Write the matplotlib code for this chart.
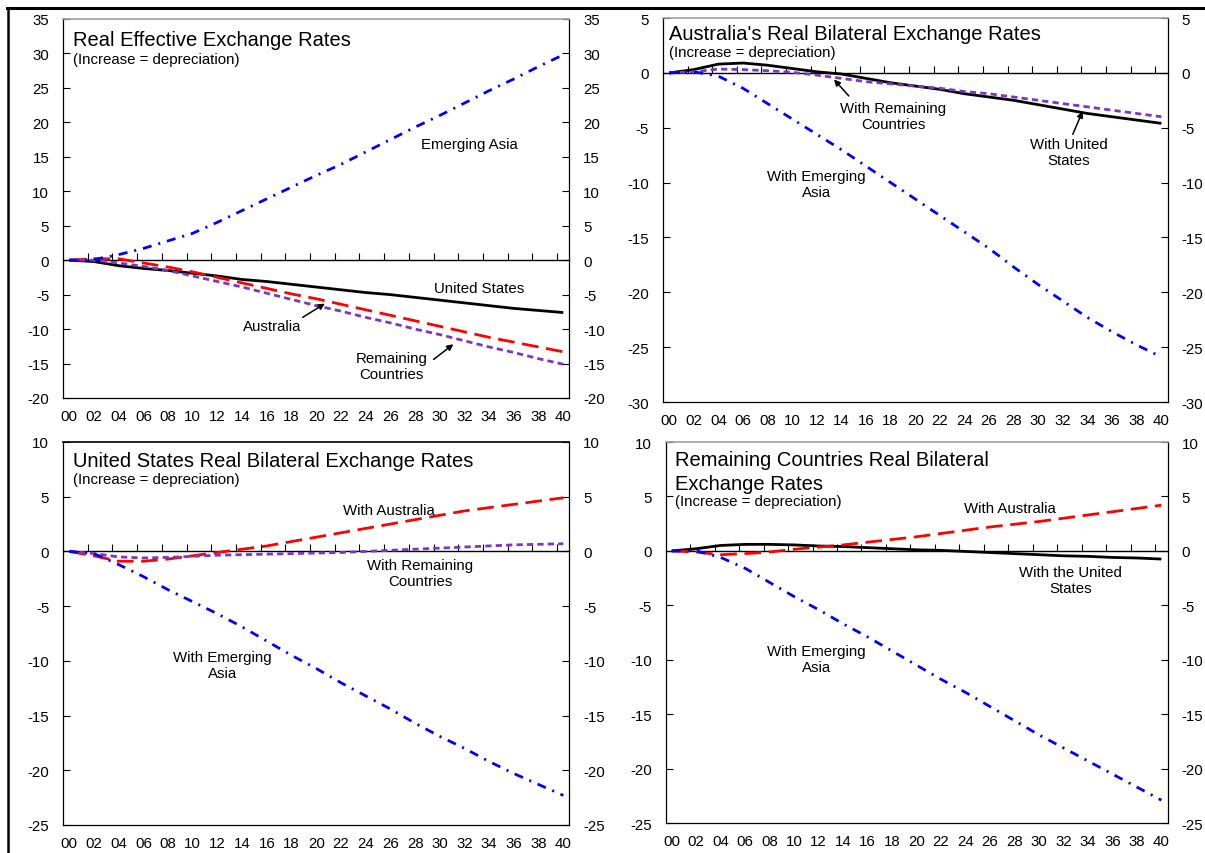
#!/usr/bin/env python3

import matplotlib

matplotlib.use("Agg")
import matplotlib.pyplot as plt
from matplotlib.lines import Line2D

# years since 2000, plotted every second year
YEARS = [0, 2, 4, 6, 8, 10, 12, 14, 16, 18, 20, 22, 24, 26, 28, 30, 32, 34, 36, 38, 40]
YEAR_LABELS = ["00", "02", "04", "06", "08", "10", "12", "14", "16", "18", "20",
               "22", "24", "26", "28", "30", "32", "34", "36", "38", "40"]

# Real effective exchange rates
REER_ASIA = [0, 0.1, 0.8, 1.7, 2.8, 3.9, 5.5, 7.2, 8.9, 10.6, 12.3, 13.9, 15.7,
             17.5, 19.3, 21.0, 22.8, 24.6, 26.3, 28.1, 29.8]
REER_US = [0, -0.2, -0.8, -1.2, -1.5, -1.9, -2.3, -2.8, -3.1, -3.5, -3.9, -4.3,
           -4.7, -5.0, -5.4, -5.8, -6.2, -6.6, -7.0, -7.3, -7.6]
REER_AUS = [0, 0.2, 0.2, -0.4, -1.0, -1.7, -2.5, -3.3, -4.1, -4.9, -5.6, -6.4,
            -7.2, -8.0, -8.8, -9.6, -10.4, -11.2, -11.9, -12.6, -13.3]
REER_REST = [0, 0, -0.4, -0.9, -1.5, -2.3, -3.1, -3.9, -4.8, -5.7, -6.6, -7.4,
             -8.3, -9.1, -10.0, -10.8, -11.7, -12.6, -13.4, -14.3, -15.1]

# Australia's real bilateral exchange rates
AUS_ASIA = [0, 0.1, -0.3, -1.4, -2.8, -4.2, -5.6, -7.0, -8.5, -10.0, -11.5, -13.0,
            -14.5, -16.0, -17.7, -19.3, -20.8, -22.3, -23.6, -24.8, -25.9]
AUS_US = [0, 0.3, 0.8, 0.9, 0.7, 0.4, 0.1, -0.1, -0.5, -0.9, -1.2, -1.5, -1.9,
          -2.2, -2.5, -2.9, -3.3, -3.7, -4.0, -4.3, -4.6]
AUS_REST = [0, 0.1, 0.35, 0.3, 0.2, 0.05, -0.2, -0.5, -0.8, -1.0, -1.2, -1.4,
            -1.7, -1.9, -2.2, -2.5, -2.8, -3.1, -3.4, -3.7, -4.0]

# United States real bilateral exchange rates
US_ASIA = [0, -0.2, -1.2, -2.3, -3.5, -4.6, -5.7, -6.9, -8.2, -9.5, -10.7, -12.0,
           -13.2, -14.4, -15.7, -16.9, -18.0, -19.2, -20.3, -21.3, -22.3]
US_AUS = [0, -0.4, -0.9, -0.9, -0.7, -0.4, -0.1, 0.2, 0.5, 0.9, 1.3, 1.7, 2.1,
          2.5, 2.9, 3.3, 3.7, 4.0, 4.3, 4.6, 4.9]
US_REST = [0, -0.2, -0.5, -0.6, -0.55, -0.45, -0.35, -0.3, -0.25, -0.2, -0.15,
           -0.1, 0.0, 0.1, 0.2, 0.3, 0.4, 0.5, 0.6, 0.65, 0.7]

# Remaining countries real bilateral exchange rates
ROW_ASIA = [0, 0, -0.6, -1.6, -2.9, -4.2, -5.4, -6.7, -7.9, -9.2, -10.5, -11.8,
            -13.0, -14.3, -15.6, -16.9, -18.1, -19.3, -20.5, -21.7, -22.9]
ROW_AUS = [0, -0.1, -0.35, -0.25, -0.1, 0.15, 0.35, 0.55, 0.8, 1.05, 1.3, 1.6,
           1.9, 2.2, 2.45, 2.7, 3.0, 3.3, 3.6, 3.9, 4.2]
ROW_US = [0, 0.2, 0.5, 0.6, 0.6, 0.55, 0.45, 0.4, 0.3, 0.2, 0.1, 0.05, -0.05,
          -0.15, -0.25, -0.35, -0.45, -0.5, -0.6, -0.65, -0.75]

STYLES = {
    "us": dict(color="black", linestyle="-"),
    "aus": dict(color="#FF0000", linestyle=(0, (12, 5.5))),
    "rest": dict(color="#7E35C0", linestyle=(0, (4.5, 3))),
    "asia": dict(color="#0000FF", linestyle=(0, (6.5, 5, 1.5, 5))),
}

SMALL = 10.8
TITLE = 14.5


def setup_axes(ax, ylim, yticks, top_color):
    ax.set_xlim(-0.5, 40.5)
    ax.set_ylim(*ylim)
    ax.set_yticks(yticks)
    ax.set_xticks(YEARS)
    ax.set_xticklabels(YEAR_LABELS)
    ax.tick_params(axis="x", length=0, pad=8, labelsize=SMALL)
    ax.tick_params(axis="y", direction="in", length=5, width=0.8, left=True,
                   right=True, labelleft=True, labelright=True, pad=10,
                   labelsize=SMALL)
    for side in ("left", "right", "bottom"):
        ax.spines[side].set_linewidth(0.9)
    ax.spines["top"].set_color(top_color)
    ax.spines["top"].set_linewidth(1.2)

    # zero line carries the tick marks, between the category labels
    zero = (0 - ylim[0]) / (ylim[1] - ylim[0])
    sec = ax.secondary_xaxis(zero)
    sec.set_alignment("bottom")
    sec.set_xticks([y + 1.5 for y in YEARS[:-1]])
    sec.tick_params(axis="x", direction="in", length=5, width=0.8,
                    labelbottom=False, labeltop=False)
    sec.spines["bottom"].set_linewidth(1.0)


def draw(ax, series):
    for key, values in series:
        ax.plot(YEARS, values, linewidth=2.0, dash_capstyle="butt",
                solid_capstyle="butt", **STYLES[key])


def label(ax, x, y, text):
    ax.text(x, y, text, ha="center", va="center", fontsize=SMALL)


def arrow(ax, tail, head):
    ax.annotate("", xy=head, xytext=tail,
                arrowprops=dict(arrowstyle="-|>", color="black", lw=1.1,
                                mutation_scale=9, shrinkA=0, shrinkB=0))


def headings(ax, x, lines, sub_y):
    for text, y in lines:
        ax.text(x, y, text, transform=ax.transAxes, fontsize=TITLE,
                va="baseline", ha="left")
    ax.text(x, sub_y, "(Increase = depreciation)", transform=ax.transAxes,
            fontsize=SMALL, va="baseline", ha="left")


def main() -> None:
    plt.rcParams["font.family"] = ["Liberation Sans", "DejaVu Sans"]
    plt.rcParams["lines.scale_dashes"] = False
    plt.rcParams["axes.unicode_minus"] = False

    fig = plt.figure(figsize=(12.05, 8.54), dpi=100)

    ax1 = fig.add_axes([0.0523, 0.5328, 0.4203, 0.4438])
    ax2 = fig.add_axes([0.5502, 0.5281, 0.4187, 0.4496])
    ax3 = fig.add_axes([0.0523, 0.0328, 0.4203, 0.4485])
    ax4 = fig.add_axes([0.5524, 0.0351, 0.4165, 0.4461])

    # top left
    setup_axes(ax1, (-20, 35), range(-20, 36, 5), "#a0a0a0")
    draw(ax1, [("us", REER_US), ("aus", REER_AUS), ("rest", REER_REST),
               ("asia", REER_ASIA)])
    headings(ax1, 0.0197, [("Real Effective Exchange Rates", 0.931)], 0.885)
    label(ax1, 32.4, 16.8, "Emerging Asia")
    label(ax1, 33.2, -4.0, "United States")
    label(ax1, 16.4, -9.5, "Australia")
    arrow(ax1, (18.9, -8.3), (20.7, -6.3))
    label(ax1, 26.1, -15.3, "Remaining\nCountries")
    arrow(ax1, (29.5, -14.4), (31.1, -12.2))

    # top right
    setup_axes(ax2, (-30, 5), range(-30, 6, 5), "#a0a0a0")
    draw(ax2, [("us", AUS_US), ("rest", AUS_REST), ("asia", AUS_ASIA)])
    headings(ax2, 0.0129, [("Australia's Real Bilateral Exchange Rates", 0.945)],
             0.901)
    label(ax2, 18.2, -3.9, "With Remaining\nCountries")
    arrow(ax2, (14.6, -2.1), (13.4, -0.6))
    label(ax2, 32.5, -7.2, "With United\nStates")
    arrow(ax2, (32.8, -5.6), (33.6, -3.5))
    label(ax2, 12.0, -10.1, "With Emerging\nAsia")

    # bottom left
    setup_axes(ax3, (-25, 10), range(-25, 11, 5), "black")
    draw(ax3, [("aus", US_AUS), ("rest", US_REST), ("asia", US_ASIA)])
    headings(ax3, 0.0192,
             [("United States Real Bilateral Exchange Rates", 0.938)], 0.894)
    label(ax3, 25.9, 3.8, "With Australia")
    label(ax3, 28.4, -2.0, "With Remaining\nCountries")
    label(ax3, 12.4, -10.4, "With Emerging\nAsia")

    # bottom right
    setup_axes(ax4, (-25, 10), range(-25, 11, 5), "#a0a0a0")
    draw(ax4, [("us", ROW_US), ("aus", ROW_AUS), ("asia", ROW_ASIA)])
    headings(ax4, 0.0177, [("Remaining Countries Real Bilateral", 0.940),
                           ("Exchange Rates", 0.878)], 0.835)
    label(ax4, 27.6, 3.9, "With Australia")
    label(ax4, 32.6, -2.7, "With the United\nStates")
    label(ax4, 11.8, -9.9, "With Emerging\nAsia")

    # page frame: heavy rule across the top and down the left
    fig.add_artist(Line2D([0.006, 1.0], [0.9895, 0.9895], color="black",
                          linewidth=2.2, transform=fig.transFigure))
    fig.add_artist(Line2D([0.0066, 0.0066], [0.0, 0.9895], color="black",
                          linewidth=1.8, transform=fig.transFigure))

    fig.savefig("out.png", dpi=100)
    plt.close(fig)


if __name__ == "__main__":
    main()
